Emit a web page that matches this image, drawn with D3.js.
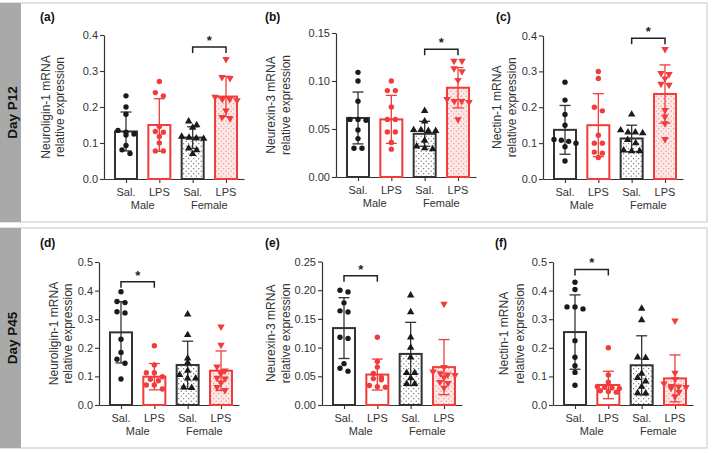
<!DOCTYPE html>
<html><head><meta charset="utf-8">
<script src="https://cdn.jsdelivr.net/npm/d3@7"></script>
<style>body{margin:0;background:#fff}svg{display:block;font-family:"Liberation Sans",Arial,sans-serif}</style>
</head><body><svg id="c" width="709" height="451"></svg>
<script>
// ---------- data ----------
const rowLabels = ["Day P12", "Day P45"];
const panelLetters = ["(a)", "(b)", "(c)", "(d)", "(e)", "(f)"];
const yTitleLine1 = ["Neuroligin-1 mRNA", "Neurexin-3 mRNA", "Nectin-1 mRNA", "Neuroligin-1 mRNA", "Neurexin-3 mRNA", "Nectin-1 mRNA"];
const yTitleLine2 = "relative expression";
const groupLabels = ["Sal.", "LPS", "Sal.", "LPS"];
const sexLabels = ["Male", "Female"];
const yMax = [0.4, 0.15, 0.4, 0.5, 0.25, 0.5];
const yStep = [0.1, 0.05, 0.1, 0.1, 0.05, 0.1];
const yDecimals = [1, 2, 1, 1, 2, 1];

const meanA = [0.132, 0.150, 0.115, 0.229];
const sdA = [0.054, 0.073, 0.030, 0.056];
const ptsA = [
  [0.231, 0.200, 0.180, 0.135, 0.130, 0.125, 0.122, 0.093, 0.081, 0.071],
  [0.271, 0.240, 0.231, 0.146, 0.132, 0.130, 0.118, 0.100, 0.078, 0.078],
  [0.160, 0.150, 0.143, 0.118, 0.115, 0.113, 0.112, 0.085, 0.080, 0.070],
  [0.333, 0.283, 0.280, 0.228, 0.222, 0.222, 0.218, 0.190, 0.172, 0.168]];
const sigA = [2, 3, 0.367];

const meanB = [0.0615, 0.060, 0.045, 0.093];
const sdB = [0.027, 0.025, 0.013, 0.021];
const ptsB = [
  [0.109, 0.100, 0.079, 0.060, 0.060, 0.059, 0.049, 0.040, 0.030, 0.030],
  [0.100, 0.090, 0.090, 0.073, 0.060, 0.060, 0.047, 0.047, 0.036, 0.029],
  [0.069, 0.058, 0.049, 0.049, 0.048, 0.048, 0.038, 0.032, 0.030, 0.029],
  [0.121, 0.121, 0.113, 0.110, 0.101, 0.081, 0.079, 0.079, 0.078, 0.060]];
const sigB = [2, 3, 0.133];

const meanC = [0.137, 0.150, 0.113, 0.237];
const sdC = [0.068, 0.088, 0.037, 0.081];
const ptsC = [
  [0.270, 0.220, 0.180, 0.150, 0.110, 0.108, 0.105, 0.100, 0.090, 0.050],
  [0.300, 0.280, 0.200, 0.190, 0.122, 0.100, 0.100, 0.075, 0.072, 0.060],
  [0.180, 0.136, 0.130, 0.130, 0.128, 0.109, 0.100, 0.080, 0.078, 0.078],
  [0.362, 0.295, 0.292, 0.280, 0.265, 0.262, 0.192, 0.174, 0.155, 0.111]];
const sigC = [2, 3, 0.392];

const meanD = [0.254, 0.099, 0.140, 0.120];
const sdD = [0.107, 0.046, 0.083, 0.069];
const ptsD = [
  [0.396, 0.362, 0.358, 0.326, 0.322, 0.230, 0.184, 0.160, 0.146, 0.091],
  [0.207, 0.140, 0.113, 0.113, 0.099, 0.090, 0.085, 0.070, 0.070, 0.056],
  [0.317, 0.245, 0.163, 0.148, 0.120, 0.105, 0.093, 0.093, 0.062, 0.060],
  [0.274, 0.210, 0.134, 0.120, 0.110, 0.095, 0.092, 0.078, 0.062, 0.052]];
const sigD = [0, 1, 0.431];

const meanE = [0.134, 0.053, 0.089, 0.066];
const sdE = [0.053, 0.027, 0.055, 0.048];
const ptsE = [
  [0.200, 0.197, 0.178, 0.164, 0.162, 0.118, 0.116, 0.072, 0.064, 0.059],
  [0.118, 0.076, 0.066, 0.055, 0.048, 0.046, 0.044, 0.034, 0.032, 0.031],
  [0.191, 0.162, 0.118, 0.100, 0.083, 0.056, 0.056, 0.047, 0.037, 0.037],
  [0.176, 0.066, 0.058, 0.055, 0.053, 0.052, 0.048, 0.040, 0.038, 0.030]];
const sigE = [0, 1, 0.225];

const meanF = [0.255, 0.070, 0.139, 0.093];
const sdF = [0.130, 0.048, 0.103, 0.082];
const ptsF = [
  [0.429, 0.404, 0.343, 0.343, 0.336, 0.225, 0.167, 0.137, 0.114, 0.069],
  [0.200, 0.105, 0.080, 0.065, 0.062, 0.060, 0.058, 0.050, 0.047, 0.045],
  [0.337, 0.297, 0.167, 0.165, 0.110, 0.095, 0.083, 0.064, 0.042, 0.041],
  [0.295, 0.112, 0.090, 0.075, 0.066, 0.064, 0.062, 0.060, 0.046, 0.030]];
const sigF = [0, 1, 0.474];

const allMeans = [meanA, meanB, meanC, meanD, meanE, meanF];
const allSds = [sdA, sdB, sdC, sdD, sdE, sdF];
const allPts = [ptsA, ptsB, ptsC, ptsD, ptsE, ptsF];
const allSig = [sigA, sigB, sigC, sigD, sigE, sigF];

// ---------- layout ----------
const layout = [
  {ax: 104, y0: 179, y1: 35,   lx: 40,  ly: 21,  t1: 46,  t2: 60},
  {ax: 336, y0: 177, y1: 33,   lx: 265, ly: 21,  t1: 271, t2: 286},
  {ax: 543, y0: 179, y1: 35.5, lx: 496, ly: 21,  t1: 497, t2: 512},
  {ax: 99,  y0: 405, y1: 262,  lx: 40,  ly: 247, t1: 54,  t2: 68},
  {ax: 322, y0: 405, y1: 261.5,lx: 265, ly: 247, t1: 271, t2: 286},
  {ax: 553, y0: 405, y1: 262,  lx: 495, ly: 247, t1: 504, t2: 520}];

const DARK = "#333", RED = "#f23b3b";
const svg = d3.select("#c");

// patterns
const defs = svg.append("defs");
const p1 = defs.append("pattern").attr("id", "dotBlack").attr("patternUnits", "userSpaceOnUse").attr("width", 5).attr("height", 5);
p1.append("rect").attr("width", 5).attr("height", 5).attr("fill", "#fff");
p1.append("circle").attr("cx", 1.2).attr("cy", 1.2).attr("r", 0.6).attr("fill", "#555");
p1.append("circle").attr("cx", 3.7).attr("cy", 3.7).attr("r", 0.6).attr("fill", "#555");
const p2 = defs.append("pattern").attr("id", "dotRed").attr("patternUnits", "userSpaceOnUse").attr("width", 5).attr("height", 5);
p2.append("rect").attr("width", 5).attr("height", 5).attr("fill", "#fde8e8");
p2.append("circle").attr("cx", 1.2).attr("cy", 1.2).attr("r", 0.6).attr("fill", "#f37a7a");
p2.append("circle").attr("cx", 3.7).attr("cy", 3.7).attr("r", 0.6).attr("fill", "#f37a7a");

// frames
const rows = [{y: 3, h: 219}, {y: 228, h: 220}];
rows.forEach((r, i) => {
  svg.append("rect").attr("x", 0.5).attr("y", r.y).attr("width", 706.5).attr("height", r.h)
    .attr("fill", "#fff").attr("stroke", "#cfcfcf").attr("stroke-width", 1.2);
  svg.append("rect").attr("x", 0).attr("y", r.y).attr("width", 21).attr("height", r.h).attr("fill", "#a9a9a9");
  svg.append("text").attr("transform", `translate(12.5,${r.y + r.h / 2}) rotate(-90)`)
    .attr("text-anchor", "middle").attr("dy", "0.35em").attr("font-weight", "bold")
    .attr("font-size", 13.5).attr("fill", "#111").text(rowLabels[i]);
});

const barColor = [DARK, RED, DARK, RED];
const barFill = ["#fff", "#fff", "url(#dotBlack)", "url(#dotRed)"];
const shapes = ["circle", "circle", "up", "down"];

layout.forEach((L, p) => {
  const g = svg.append("g");
  const y = d3.scaleLinear().domain([0, yMax[p]]).range([L.y0, L.y1]);
  const x = d3.scaleLinear().domain([-0.66, 3.54]).range([L.ax, L.ax + 140]);
  const ticks = d3.range(0, yMax[p] + yStep[p] / 2, yStep[p]);

  const ya = g.append("g").attr("transform", `translate(${L.ax},0)`)
    .call(d3.axisLeft(y).tickValues(ticks).tickFormat(d3.format(`.${yDecimals[p]}f`)).tickSize(4).tickSizeOuter(0));
  const xa = g.append("g").attr("transform", `translate(0,${L.y0})`)
    .call(d3.axisBottom(x).tickValues([0, 1, 2, 3]).tickFormat("").tickSize(4).tickSizeOuter(0));
  [ya, xa].forEach(a => {
    a.select(".domain").attr("stroke", DARK).attr("stroke-width", 1.2);
    a.selectAll(".tick line").attr("stroke", DARK).attr("stroke-width", 1.1);
    a.selectAll(".tick text").attr("fill", "#333").attr("font-size", 11).attr("font-family", "Liberation Sans, Arial, sans-serif");
  });
  ya.selectAll(".tick text").attr("x", -6);

  // labels
  g.append("text").attr("x", L.lx).attr("y", L.ly).attr("font-weight", "bold").attr("font-size", 12).attr("fill", "#111").text(panelLetters[p]);
  const yc = (L.y0 + L.y1) / 2;
  [[L.t1, yTitleLine1[p]], [L.t2, yTitleLine2]].forEach(([tx, s]) => {
    g.append("text").attr("transform", `translate(${tx},${yc}) rotate(-90)`).attr("text-anchor", "middle")
      .attr("dy", "0.35em").attr("font-size", 12).attr("fill", "#333").text(s);
  });
  groupLabels.forEach((s, i) => {
    g.append("text").attr("x", x(i)).attr("y", L.y0 + 17).attr("text-anchor", "middle").attr("font-size", 11).attr("fill", "#333").text(s);
  });
  sexLabels.forEach((s, i) => {
    g.append("text").attr("x", x(i * 2 + 0.5)).attr("y", L.y0 + 30).attr("text-anchor", "middle").attr("font-size", 11).attr("fill", "#333").text(s);
  });

  const bw = 22;
  const means = allMeans[p], sds = allSds[p], pts = allPts[p];
  // bars
  means.forEach((m, i) => {
    g.append("rect").attr("x", x(i) - bw / 2).attr("y", y(m)).attr("width", bw).attr("height", L.y0 - y(m))
      .attr("fill", barFill[i]).attr("stroke", barColor[i]).attr("stroke-width", 2);
  });
  // error bars
  means.forEach((m, i) => {
    const hi = y(m + sds[i]), lo = y(Math.max(0, m - sds[i])), cx = x(i);
    const c = barColor[i];
    g.append("line").attr("x1", cx).attr("x2", cx).attr("y1", hi).attr("y2", lo).attr("stroke", c).attr("stroke-width", 1.3);
    [hi, lo].forEach(yy => g.append("line").attr("x1", cx - 5.5).attr("x2", cx + 5.5).attr("y1", yy).attr("y2", yy)
      .attr("stroke", c).attr("stroke-width", 1.3));
  });
  // points (simple row-based spreading)
  pts.forEach((arr, i) => {
    const sorted = arr.slice().sort((a, b) => b - a);
    const rowsP = [];
    sorted.forEach(v => {
      const last = rowsP[rowsP.length - 1];
      if (last && Math.abs(y(v) - y(last[0])) < 4.2) last.push(v); else rowsP.push([v]);
    });
    const col = i % 2 === 0 ? "#1a1a1a" : RED;
    rowsP.forEach(r => {
      const n = r.length, s = n > 1 ? Math.min(8, 22 / (n - 1)) : 0;
      r.forEach((v, k) => {
        const px = x(i) + (k - (n - 1) / 2) * s, py = y(v);
        if (shapes[i] === "circle") {
          g.append("circle").attr("cx", px).attr("cy", py).attr("r", 2.7).attr("fill", col);
        } else {
          g.append("path").attr("d", d3.symbol(d3.symbolTriangle, 24)())
            .attr("transform", `translate(${px},${py})${shapes[i] === "down" ? " rotate(180)" : ""}`).attr("fill", col);
        }
      });
    });
  });
  // significance bracket
  const [s0, s1, sv] = allSig[p];
  const by = y(sv);
  g.append("path").attr("d", `M${x(s0)},${by + 6}V${by}H${x(s1)}V${by + 6}`).attr("fill", "none")
    .attr("stroke", "#222").attr("stroke-width", 1.5);
  g.append("text").attr("x", (x(s0) + x(s1)) / 2).attr("y", by - 2).attr("text-anchor", "middle")
    .attr("font-size", 13).attr("font-weight", "bold").attr("fill", "#222").text("*");
});
</script></body></html>
